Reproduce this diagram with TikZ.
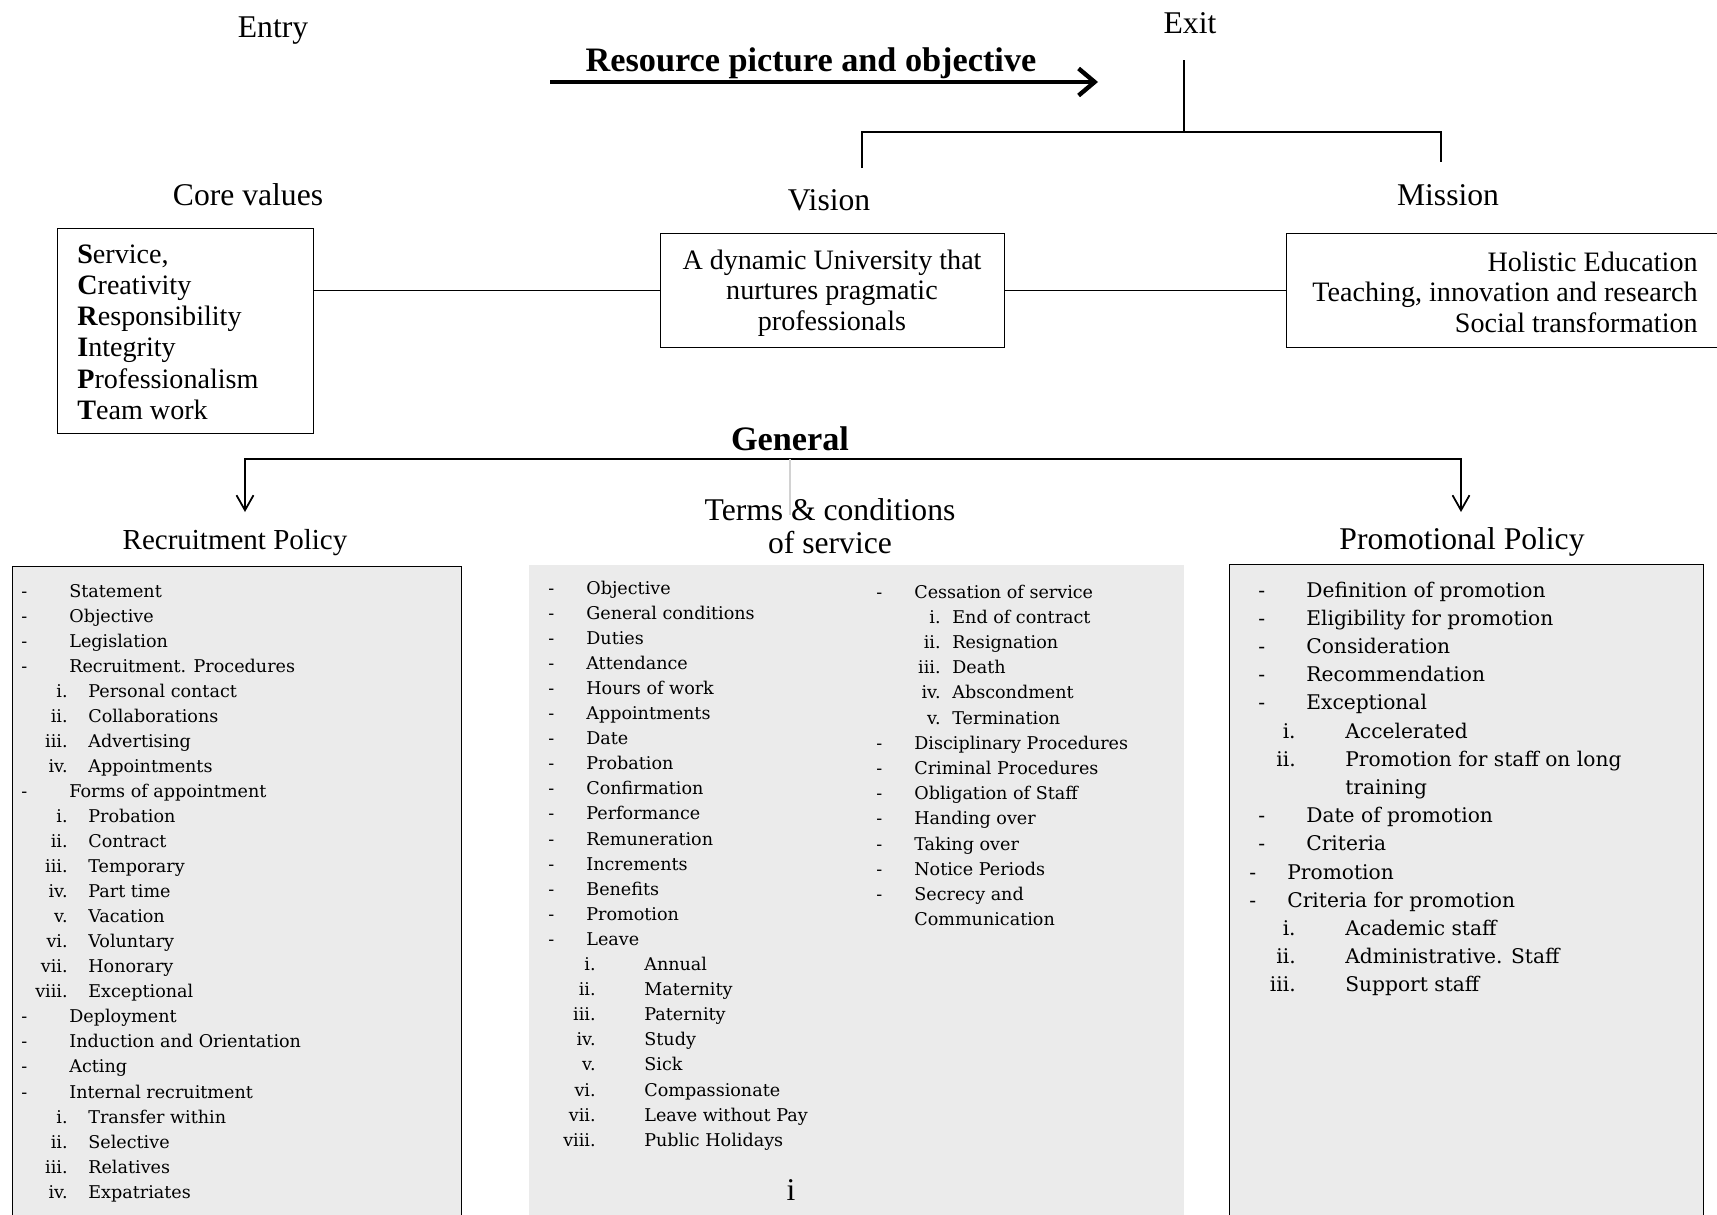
\documentclass[tikz,border=0pt]{standalone}
\usepackage{fontspec}
\setmainfont{Liberation Serif}
\newfontfamily\listfont{DejaVu Serif}
\usepackage{xcolor}
\usepackage{tikz}
\usetikzlibrary{arrows.meta, positioning}

\definecolor{panelgray}{HTML}{EBEBEB}

\tikzset{
  heading/.style={font=\fontsize{18}{18.7}\selectfont, inner sep=0pt},
  title/.style={font=\fontsize{19.5}{21}\selectfont\bfseries, inner sep=0pt},
  boxtext/.style={font=\fontsize{16}{17.5}\selectfont, inner sep=0pt},
  frame/.style={draw, line width=0.6pt, anchor=north west, inner sep=0pt},
  panel/.style={frame, fill=panelgray},
  link/.style={line width=1pt},
  listtext/.style={font=\listfont\fontsize{10}{12}\selectfont, inner sep=0pt},
  promotext/.style={font=\listfont\fontsize{11.5}{13}\selectfont, inner sep=0pt},
}

\begin{document}
\begin{tikzpicture}[x=0.02cm, y=-0.02cm, >={Straight Barb[length=3mm,width=3.4mm]}]
  \useasboundingbox (0,0) rectangle (1717,1214);
  \clip (0,0) rectangle (1717,1214);

  % top row
  \node[heading] (entry) at (273,31) {Entry};
  \node[heading] (exit) at (1190,23) {Exit};
  \node[title] (resource) at (811,63) {Resource picture and objective};
  \coordinate (rpfrom) at (550,82);
  \coordinate (rpto) at (1098,82);
  \draw[line width=2.5pt, -{Straight Barb[length=3.2mm,width=5.4mm]}] (rpfrom) -- (rpto);

  % exit branches
  \coordinate (exitfoot) at (1184,60);
  \coordinate (exitbar) at (1184,132);
  \coordinate (visiondrop) at (862,168);
  \coordinate (missiondrop) at (1441,162);
  \draw[link] (exitfoot) -- (exitbar);
  \draw[link] (visiondrop) |- (exitbar) -| (missiondrop);

  % core values, vision, mission
  \node[heading] (corehead) at (248,195) {Core values};
  \node[heading] (visionhead) at (829,200) {Vision};
  \node[heading] (missionhead) at (1448,195) {Mission};

  \node[frame, minimum width=5.12cm, minimum height=4.1cm] (core) at (57,228) {};
  \foreach \b/\r [count=\i from 0] in {S/{ervice,}, C/reativity, R/esponsibility,
      I/ntegrity, P/rofessionalism, T/eam work}
    \node[boxtext, anchor=base west] (cv\i) at (77,263+31.3*\i) {\textbf{\b}\r};

  \node[frame, anchor=north west, minimum width=6.88cm, minimum height=2.28cm] (vision) at (660,233) {};
  \node[boxtext, align=center, font=\fontsize{16}{17.4}\selectfont] (visiontext) at (832,293)
        {A dynamic University that\\ nurtures pragmatic\\ professionals};

  \node[frame, minimum width=8.88cm, minimum height=2.28cm] (mission) at (1286,233) {};
  \node[boxtext, align=right, anchor=east, font=\fontsize{16}{17.4}\selectfont] (missiontext) at (1698,292)
        {Holistic Education\\ Teaching, innovation and research\\ Social transformation};

  \draw[link] (vision.west) -- (vision.west -| core.east);
  \draw[link] (vision.east) -- (mission.west);

  % general
  \node[title] (general) at (790,439) {General};
  \coordinate (genbar) at (790,459);
  \coordinate (gentail) at (790,515);
  \coordinate (recdrop) at (245,512);
  \coordinate (promodrop) at (1461,512);
  \draw[link, <->] (recdrop) |- (genbar) -| (promodrop);
  \draw[gray!35, line width=0.6pt] (genbar) -- (gentail);

  \node[heading, font=\fontsize{16.5}{18}\selectfont] (rechead) at (235,543) {Recruitment Policy};
  \node[heading, align=center] (termshead) at (830,526) {Terms \& conditions\\ of service};
  \node[heading] (promohead) at (1462,542) {Promotional Policy};

  % panels
  \node[panel, minimum width=8.98cm, minimum height=13.4cm] (recpanel) at (12,566) {};
  \node[panel, draw=none, minimum width=13.12cm, minimum height=13.4cm] (termspanel) at (528,564) {};
  \node[panel, minimum width=9.48cm, minimum height=13.4cm] (promopanel) at (1229,564) {};

  % recruitment policy
  \foreach \r/\t in {0/Statement, 1/Objective, 2/Legislation, 3/Recruitment. Procedures,
      8/Forms of appointment, 17/Deployment, 18/Induction and Orientation, 19/Acting,
      20/Internal recruitment} {
    \node[listtext, anchor=base west] (recd\r) at (21,597+25.05*\r) {-};
    \node[listtext, anchor=base west] (rec\r) at (69,597+25.05*\r) {\t};
  }
  \foreach \r/\n/\t in {4/i./Personal contact, 5/ii./Collaborations, 6/iii./Advertising,
      7/iv./Appointments, 9/i./Probation, 10/ii./Contract, 11/iii./Temporary,
      12/iv./Part time, 13/v./Vacation, 14/vi./Voluntary, 15/vii./Honorary,
      16/viii./Exceptional, 21/i./Transfer within, 22/ii./Selective,
      23/iii./Relatives, 24/iv./Expatriates} {
    \node[listtext, anchor=base east] (recn\r) at (68,597+25.05*\r) {\n};
    \node[listtext, anchor=base west] (rec\r) at (88,597+25.05*\r) {\t};
  }

  % terms and conditions, left column
  \foreach \t [count=\r from 0] in {Objective, General conditions, Duties, Attendance,
      Hours of work, Appointments, Date, Probation, Confirmation, Performance,
      Remuneration, Increments, Benefits, Promotion, Leave} {
    \node[listtext, anchor=base west] (tcd\r) at (548,594+25.1*\r) {-};
    \node[listtext, anchor=base west] (tc\r) at (586,594+25.1*\r) {\t};
  }
  \foreach \n/\t [count=\r from 15] in {i./Annual, ii./Maternity, iii./Paternity,
      iv./Study, v./Sick, vi./Compassionate, vii./Leave without Pay,
      viii./Public Holidays} {
    \node[listtext, anchor=base east] (tcn\r) at (596,594+25.1*\r) {\n};
    \node[listtext, anchor=base west] (tc\r) at (644,594+25.1*\r) {\t};
  }

  % terms and conditions, right column
  \foreach \r/\t in {0/Cessation of service, 6/Disciplinary Procedures,
      7/Criminal Procedures, 8/Obligation of Staff, 9/Handing over, 10/Taking over,
      11/Notice Periods, 12/Secrecy and} {
    \node[listtext, anchor=base west] (tsd\r) at (876,598+25.2*\r) {-};
    \node[listtext, anchor=base west] (ts\r) at (914,598+25.2*\r) {\t};
  }
  \foreach \n/\t [count=\r from 1] in {i./End of contract, ii./Resignation, iii./Death,
      iv./Abscondment, v./Termination} {
    \node[listtext, anchor=base east] (tsn\r) at (941,598+25.2*\r) {\n};
    \node[listtext, anchor=base west] (ts\r) at (952,598+25.2*\r) {\t};
  }
  \node[listtext, anchor=base west] (ts13) at (914,598+25.2*13) {Communication};

  \node[heading] (pagemark) at (791,1190) {i};

  % promotional policy
  \foreach \r/\t in {0/Definition of promotion, 1/Eligibility for promotion,
      2/Consideration, 3/Recommendation, 4/Exceptional, 8/Date of promotion,
      9/Criteria} {
    \node[promotext, anchor=base west] (prd\r) at (1258,597+28.2*\r) {-};
    \node[promotext, anchor=base west] (pr\r) at (1306,597+28.2*\r) {\t};
  }
  \foreach \r/\t in {10/Promotion, 11/Criteria for promotion} {
    \node[promotext, anchor=base west] (prd\r) at (1249,597+28.2*\r) {-};
    \node[promotext, anchor=base west] (pr\r) at (1287,597+28.2*\r) {\t};
  }
  \foreach \r/\n/\t in {5/i./Accelerated, 6/ii./Promotion for staff on long,
      12/i./Academic staff, 13/ii./Administrative. Staff, 14/iii./Support staff} {
    \node[promotext, anchor=base east] (prn\r) at (1296,597+28.2*\r) {\n};
    \node[promotext, anchor=base west] (pr\r) at (1345,597+28.2*\r) {\t};
  }
  \node[promotext, anchor=base west] (pr7) at (1345,597+28.2*7) {training};
\end{tikzpicture}
\end{document}
